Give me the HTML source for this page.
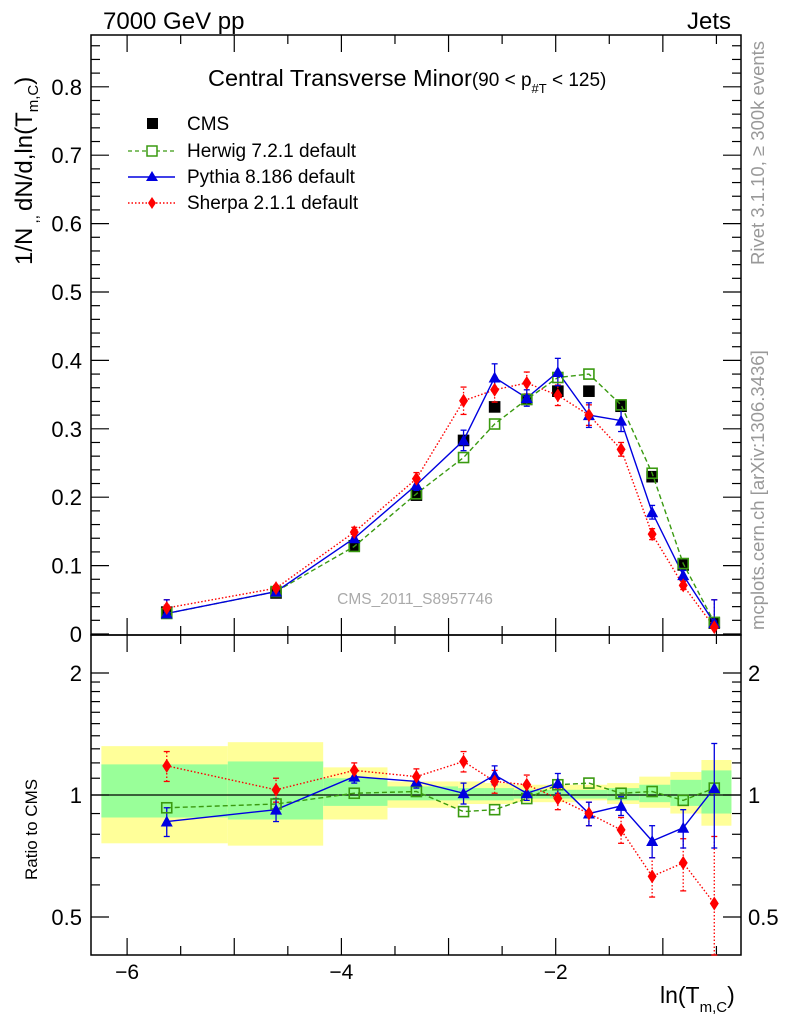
<!DOCTYPE html>
<html><head><meta charset="utf-8"><style>
html,body{margin:0;padding:0;background:#fff;}
svg{display:block;font-family:"Liberation Sans",sans-serif;}
</style></head><body>
<svg id="chart" width="786" height="1024" viewBox="0 0 786 1024" xmlns="http://www.w3.org/2000/svg">
<g id="bands"></g>
<g id="axes"></g>
<g id="series"></g>
<text x="103" y="29" font-size="24">7000 GeV pp</text>
<text x="731" y="29" font-size="24" text-anchor="end">Jets</text>
<text x="208" y="86" font-size="23.5">Central Transverse Minor<tspan font-size="19">(90 &lt; p</tspan><tspan font-size="13" dy="7">#T</tspan><tspan font-size="19" dy="-7"> &lt; 125)</tspan></text>
<text transform="translate(32,265) rotate(-90)" font-size="24">1/N<tspan font-size="15" dy="6"> ,, </tspan><tspan dy="-6">dN/d,ln(T</tspan><tspan font-size="15" dy="6">m,C</tspan><tspan dy="-6">)</tspan></text>
<text transform="translate(37,880) rotate(-90)" font-size="17">Ratio to CMS</text>
<text x="660" y="1003" font-size="23">ln(T<tspan font-size="15" dy="9">m,C</tspan><tspan dy="-9">)</tspan></text>
<text transform="translate(764,265) rotate(-90)" font-size="18.5" fill="#999">Rivet 3.1.10, ≥ 300k events</text>
<text transform="translate(764,630) rotate(-90)" font-size="18.5" fill="#999">mcplots.cern.ch [arXiv:1306.3436]</text>
<text x="415" y="604" font-size="15.5" fill="#aaa" text-anchor="middle">CMS_2011_S8957746</text>
<g>
<rect x="147" y="118" width="11" height="11" fill="#000"/>
<text x="187" y="130" font-size="19">CMS</text>
<line x1="128" y1="151" x2="175" y2="151" stroke="#3a9a10" stroke-width="1.3" stroke-dasharray="4,3"/>
<rect x="147" y="146" width="10" height="10" fill="#fff" stroke="#3a9a10" stroke-width="1.5"/>
<text x="187" y="157" font-size="19">Herwig 7.2.1 default</text>
<line x1="128" y1="177" x2="175" y2="177" stroke="#0000e0" stroke-width="1.5"/>
<polygon points="152,171 158,181 146,181" fill="#0000e0"/>
<text x="187" y="183" font-size="19">Pythia 8.186 default</text>
<line x1="128" y1="203" x2="175" y2="203" stroke="#f00" stroke-width="1.5" stroke-dasharray="1.5,2"/>
<polygon points="152,197 156,203 152,209 148,203" fill="#f00"/>
<text x="187" y="209" font-size="19">Sherpa 2.1.1 default</text>
</g>
</svg>
<script>
const xCenters=[-5.63,-4.61,-3.88,-3.30,-2.86,-2.57,-2.27,-1.98,-1.69,-1.39,-1.10,-0.81,-0.52];
const binEdges=[-6.24,-5.06,-4.17,-3.57,-2.91,-2.66,-2.39,-2.10,-1.81,-1.52,-1.22,-0.93,-0.64,-0.36];
const cmsValues=[0.032,0.060,0.129,0.203,0.283,0.332,0.343,0.355,0.355,0.333,0.230,0.101,0.016];
const herwigValues=[0.030,0.062,0.128,0.205,0.258,0.307,0.343,0.375,0.380,0.335,0.235,0.103,0.017];
const pythiaValues=[0.030,0.062,0.140,0.218,0.283,0.375,0.345,0.383,0.320,0.312,0.178,0.086,0.016];
const sherpaValues=[0.038,0.067,0.149,0.227,0.341,0.357,0.367,0.349,0.320,0.270,0.146,0.071,0.010];
const pythiaErr=[0.003,0.004,0.006,0.008,0.015,0.020,0.012,0.020,0.018,0.016,0.010,0.007,0.003];
const sherpaErr=[0.004,0.004,0.007,0.009,0.020,0.018,0.016,0.015,0.015,0.010,0.008,0.006,0.004];
const herwigRatio=[0.93,0.95,1.01,1.02,0.91,0.92,0.98,1.06,1.07,1.01,1.02,0.97,1.04];
const pythiaRatio=[0.86,0.92,1.11,1.08,1.01,1.12,1.01,1.07,0.90,0.94,0.77,0.83,1.04];
const sherpaRatio=[1.18,1.03,1.15,1.11,1.21,1.08,1.06,0.98,0.90,0.82,0.63,0.68,0.54];
const pythiaRatioErr=[0.07,0.06,0.04,0.04,0.06,0.06,0.04,0.06,0.06,0.05,0.07,0.09,0.3];
const sherpaRatioErr=[0.1,0.07,0.05,0.05,0.07,0.07,0.06,0.06,0.06,0.06,0.07,0.1,0.25];
const yellowLo=[0.76,0.75,0.87,0.93,0.95,0.95,0.96,0.96,0.97,0.95,0.93,0.90,0.84];
const yellowHi=[1.32,1.35,1.17,1.08,1.08,1.07,1.06,1.06,1.06,1.07,1.11,1.14,1.22];
const greenLo=[0.88,0.87,0.94,0.97,0.97,0.97,0.98,0.98,0.98,0.97,0.96,0.94,0.90];
const greenHi=[1.19,1.21,1.10,1.05,1.04,1.04,1.03,1.03,1.03,1.04,1.06,1.09,1.15];
const xTicks=[-6,-4,-2];
const yTicks=[0,0.1,0.2,0.3,0.4,0.5,0.6,0.7,0.8];
const rTicks=[0.5,1,2];

const NS="http://www.w3.org/2000/svg";
const L=91,R=741,T=35,MB=635,RB=955;
const X=v=>770+107.15*v;
const Y=v=>634-684*v;
const RY=r=>795-122*Math.log2(r);
function mk(parent,tag,attrs){const e=document.createElementNS(NS,tag);for(const k in attrs)e.setAttribute(k,attrs[k]);document.getElementById(parent).appendChild(e);return e;}

for(let i=0;i<xCenters.length;i++){
 let e=mk('bands','rect',{x:X(binEdges[i]),width:X(binEdges[i+1])-X(binEdges[i]),y:RY(yellowHi[i]),height:RY(yellowLo[i])-RY(yellowHi[i]),fill:'#ffff99'});
 
 
 let g=mk('bands','rect',{x:X(binEdges[i]),width:X(binEdges[i+1])-X(binEdges[i]),y:RY(greenHi[i]),height:RY(greenLo[i])-RY(greenHi[i]),fill:'#99ff99'});
 
 
}
let f1=mk('axes','rect',{x:L,y:T,width:R-L,height:MB-T,fill:'none',stroke:'#000','stroke-width':1.5});


let f2=mk('axes','rect',{x:L,y:MB,width:R-L,height:RB-MB,fill:'none',stroke:'#000','stroke-width':1.5});


let ul=mk('axes','line',{x1:L,x2:R,y1:RY(1),y2:RY(1),stroke:'#000','stroke-width':1.2});


for(let k=-13;k<=-1;k++){
 const v=k*0.5;
 const px=X(v); if(px<L||px>R) continue;
 const major=(k%2===0);
 const len=major?17:9;
 [[MB,T],[RB,MB]].forEach(function(p){
  mk('axes','line',{x1:px,x2:px,y1:p[0],y2:p[0]-len,stroke:'#000','stroke-width':1.2});
  mk('axes','line',{x1:px,x2:px,y1:p[1],y2:p[1]+len,stroke:'#000','stroke-width':1.2});
 });
}
xTicks.forEach(v=>{let t=mk('axes','text',{x:X(v),y:979,'font-size':21,'text-anchor':'middle'});t.textContent='\u2212'+Math.abs(v);
 
 });
for(let i=0;i<=43;i++){const v=i*0.02;const py=Y(v);if(py<T)continue;const major=i%5==0;const len=major?18:9;
 mk('axes','line',{x1:L,x2:L+len,y1:py,y2:py,stroke:'#000','stroke-width':1.2});
 mk('axes','line',{x1:R,x2:R-len,y1:py,y2:py,stroke:'#000','stroke-width':1.2});}
yTicks.forEach(v=>{let t=mk('axes','text',{x:82,y:Y(v)+8,'font-size':22,'text-anchor':'end'});t.textContent=v===0?'0':v.toFixed(1);
 
 });
[0.4,0.5,0.6,0.7,0.8,0.9,1,1.1,1.2,1.3,1.4,1.5,1.6,1.7,1.8,1.9,2].forEach(r=>{const py=RY(r);if(py>RB||py<MB)return;const major=(r===0.5||r===1||r===2);const len=major?18:9;
 mk('axes','line',{x1:L,x2:L+len,y1:py,y2:py,stroke:'#000','stroke-width':1.2});
 mk('axes','line',{x1:R,x2:R-len,y1:py,y2:py,stroke:'#000','stroke-width':1.2});});
rTicks.forEach(r=>{const lbl=r===0.5?'0.5':String(r);
 let t=mk('axes','text',{x:82,y:RY(r)+8,'font-size':22,'text-anchor':'end'});t.textContent=lbl;
 
 
 let t2=mk('axes','text',{x:748,y:RY(r)+8,'font-size':22});t2.textContent=lbl;
 
 });

function line(ys,fy,color,dash,name){const pts=xCenters.map((x,i)=>X(x)+','+fy(ys[i])).join(' ');
 const e=mk('series','polyline',{points:pts,fill:'none',stroke:color,'stroke-width':1.4,'stroke-dasharray':dash||'none'});
 
 }
function errs(ys,er,fy,color,dash){xCenters.forEach((x,i)=>{const lo=Math.max(ys[i]-er[i],0.05),hi=ys[i]+er[i];
 const y1=Math.min(fy(lo),RB),y2=fy(hi);const px=X(x);
 mk('series','line',{x1:px,x2:px,y1:y1,y2:y2,stroke:color,'stroke-width':1.3,'stroke-dasharray':dash||'none'});
 mk('series','line',{x1:px-3,x2:px+3,y1:y1,y2:y1,stroke:color,'stroke-width':1.3});
 mk('series','line',{x1:px-3,x2:px+3,y1:y2,y2:y2,stroke:color,'stroke-width':1.3});});}
function squares(ys,fy,fill,stroke,name){xCenters.forEach((x,i)=>{const e=mk('series','rect',{x:X(x)-5,y:fy(ys[i])-5,width:10,height:10,fill:fill,stroke:stroke,'stroke-width':1.6});
 
 });}
function tris(ys,fy,name){xCenters.forEach((x,i)=>{const px=X(x),py=fy(ys[i]);const e=mk('series','polygon',{points:px+','+(py-6)+' '+(px+6)+','+(py+5)+' '+(px-6)+','+(py+5),fill:'#0000e0'});
 
 });}
function dias(ys,fy,name){xCenters.forEach((x,i)=>{const px=X(x),py=fy(ys[i]);const e=mk('series','polygon',{points:px+','+(py-7)+' '+(px+4.5)+','+py+' '+px+','+(py+7)+' '+(px-4.5)+','+py,fill:'#f00'});
 
 });}

squares(cmsValues,Y,'#000','#000','cms-point');
line(herwigValues,Y,'#3a9a10','5,3','herwig-line');
errs(sherpaValues,sherpaErr,Y,'#f00','1.5,2');
line(sherpaValues,Y,'#f00','1.5,2','sherpa-line');
errs(pythiaValues,pythiaErr,Y,'#0000e0','');
line(pythiaValues,Y,'#0000e0','','pythia-line');
squares(herwigValues,Y,'none','#3a9a10','herwig-point');
tris(pythiaValues,Y,'pythia-point');
dias(sherpaValues,Y,'sherpa-point');
line(herwigRatio,RY,'#3a9a10','5,3','herwig-ratio-line');
errs(sherpaRatio,sherpaRatioErr,RY,'#f00','1.5,2');
line(sherpaRatio,RY,'#f00','1.5,2','sherpa-ratio-line');
errs(pythiaRatio,pythiaRatioErr,RY,'#0000e0','');
line(pythiaRatio,RY,'#0000e0','','pythia-ratio-line');
squares(herwigRatio,RY,'none','#3a9a10','herwig-ratio-point');
tris(pythiaRatio,RY,'pythia-ratio-point');
dias(sherpaRatio,RY,'sherpa-ratio-point');
</script>
</body></html>
